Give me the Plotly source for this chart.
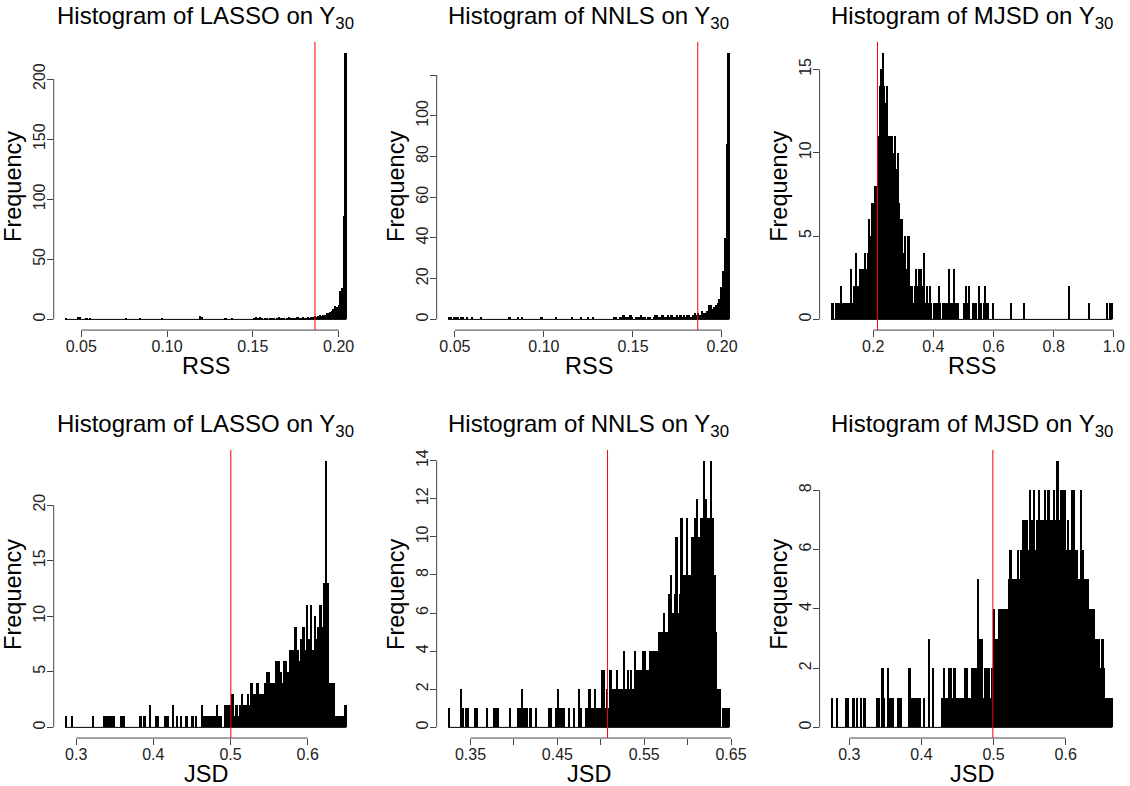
import plotly.graph_objects as go

W, H = 1130, 786
FONT = "Liberation Sans, Arial, Helvetica, sans-serif"

# ---------------- data ----------------
methods = ["LASSO", "NNLS", "MJSD", "LASSO", "NNLS", "MJSD"]
metrics = ["RSS", "RSS", "RSS", "JSD", "JSD", "JSD"]

# histogram bin grids (start of first bin, bin width)
bin_start = [0.0405, 0.0461, 0.0595, 0.2855, 0.324, 0.2745]
bin_width = [0.001, 0.001, 0.005, 0.00248, 0.002, 0.0025]

# red reference lines
ref_value = [0.1862, 0.1864, 0.2146, 0.5004, 0.5078, 0.4990]

counts_lasso_rss = [
    1, 0, 0, 0, 0, 0, 0, 2, 2, 0,
    0, 0, 1, 0, 1, 0, 0, 0, 0, 0,
    0, 0, 0, 0, 0, 0, 0, 0, 0, 0,
    0, 0, 0, 0, 0, 1, 0, 0, 0, 0,
    0, 0, 0, 1, 0, 0, 0, 0, 0, 0,
    0, 0, 0, 0, 0, 0, 1, 0, 0, 0,
    0, 0, 0, 0, 0, 0, 0, 0, 0, 0,
    0, 0, 0, 0, 0, 0, 0, 0, 3, 2,
    0, 0, 0, 0, 0, 0, 0, 0, 0, 0,
    0, 0, 0, 1, 0, 0, 0, 1, 0, 0,
    0, 0, 0, 0, 0, 0, 0, 0, 0, 0,
    1, 2, 1, 2, 1, 0, 1, 1, 0, 1,
    1, 1, 0, 1, 2, 1, 1, 1, 0, 1,
    2, 1, 1, 1, 1, 2, 1, 1, 2, 1,
    1, 2, 1, 2, 2, 3, 2, 3, 4, 3,
    4, 4, 5, 5, 6, 7, 9, 11, 10, 12,
    24, 26, 86, 222,
]

counts_nnls_rss = [
    1, 1, 0, 1, 1, 1, 0, 1, 1, 0,
    1, 0, 0, 1, 0, 0, 0, 0, 1, 0,
    0, 0, 0, 0, 0, 0, 0, 0, 0, 0,
    0, 0, 0, 0, 1, 0, 0, 0, 0, 1,
    0, 1, 0, 0, 0, 0, 0, 0, 0, 0,
    0, 0, 1, 0, 0, 0, 0, 0, 0, 0,
    1, 0, 0, 0, 0, 0, 0, 0, 0, 1,
    0, 0, 0, 0, 1, 0, 0, 0, 1, 0,
    0, 1, 0, 0, 0, 0, 0, 0, 0, 0,
    0, 0, 0, 1, 1, 0, 1, 1, 2, 1,
    1, 1, 2, 1, 0, 1, 1, 1, 2, 1,
    1, 0, 1, 1, 0, 1, 2, 2, 1, 1,
    2, 1, 1, 2, 1, 2, 1, 1, 2, 1,
    2, 1, 2, 1, 2, 2, 1, 2, 3, 2,
    3, 2, 4, 3, 3, 4, 7, 7, 5, 6,
    7, 8, 10, 16, 24, 40, 86, 131,
]

counts_mjsd_rss = [
    1, 1, 0, 1, 1, 1, 2, 1, 1, 1,
    1, 1, 1, 3, 1, 2, 4, 2, 2, 3,
    3, 3, 4, 3, 4, 6, 5, 7, 7, 8,
    8, 11, 14, 15, 16, 14, 13, 14, 11, 11,
    11, 10, 11, 9, 10, 7, 6, 6, 4, 5,
    3, 5, 2, 2, 1, 2, 3, 2, 3, 3,
    2, 4, 1, 2, 1, 2, 1, 0, 1, 1,
    1, 2, 1, 0, 1, 1, 1, 1, 3, 1,
    1, 3, 1, 1, 1, 0, 0, 0, 1, 2,
    1, 2, 0, 0, 1, 1, 1, 0, 2, 1,
    0, 1, 2, 1, 1, 0, 0, 1, 0, 0,
    0, 0, 0, 0, 0, 0, 0, 0, 0, 1,
    0, 0, 0, 0, 0, 0, 0, 0, 1, 0,
    0, 0, 0, 0, 0, 0, 0, 0, 0, 0,
    0, 0, 0, 0, 0, 0, 0, 0, 0, 0,
    0, 0, 0, 0, 0, 0, 0, 0, 2, 0,
    0, 0, 0, 0, 0, 0, 0, 0, 0, 0,
    0, 1, 0, 0, 0, 0, 0, 0, 0, 0,
    0, 0, 0, 1, 0, 1, 1,
]

counts_lasso_jsd = [
    1, 0, 0, 1, 0, 0, 0, 0, 0, 0,
    0, 0, 0, 0, 1, 0, 0, 0, 0, 0,
    1, 1, 1, 1, 1, 1, 0, 0, 0, 1,
    1, 0, 0, 0, 0, 0, 0, 0, 0, 1,
    0, 1, 0, 0, 2, 0, 0, 1, 1, 0,
    0, 0, 1, 1, 0, 0, 2, 0, 1, 0,
    1, 0, 0, 1, 0, 0, 1, 0, 1, 0,
    0, 2, 1, 1, 1, 1, 1, 1, 1, 2,
    1, 1, 0, 2, 2, 2, 2, 3, 1, 2,
    1, 2, 3, 2, 2, 3, 2, 4, 3, 3,
    4, 3, 3, 3, 4, 5, 5, 4, 4, 4,
    6, 6, 5, 4, 6, 6, 5, 7, 7, 7,
    9, 7, 6, 8, 9, 7, 11, 8, 11, 7,
    10, 8, 9, 11, 9, 13, 24, 13, 4, 4,
    4, 1, 1, 1, 1, 1, 2,
]

counts_nnls_jsd = [
    1, 0, 0, 0, 0, 0, 0, 2, 1, 0,
    1, 1, 0, 0, 0, 1, 1, 0, 0, 0,
    0, 0, 1, 0, 0, 0, 1, 1, 1, 0,
    0, 0, 0, 0, 0, 1, 0, 0, 0, 0,
    1, 1, 2, 1, 1, 1, 0, 1, 0, 0,
    1, 0, 0, 0, 0, 0, 0, 0, 1, 1,
    0, 0, 1, 2, 1, 1, 1, 0, 0, 1,
    0, 0, 1, 0, 0, 2, 1, 0, 0, 1,
    1, 2, 1, 1, 2, 1, 1, 1, 3, 3,
    1, 2, 1, 3, 2, 2, 2, 3, 2, 2,
    2, 4, 2, 3, 2, 3, 2, 4, 3, 3,
    3, 3, 4, 4, 3, 3, 4, 4, 4, 4,
    4, 5, 5, 5, 6, 5, 5, 7, 8, 6,
    7, 10, 6, 7, 11, 8, 8, 11, 8, 8,
    10, 10, 11, 12, 10, 11, 11, 14, 12, 11,
    11, 14, 11, 8, 5, 2, 2, 0, 1, 1,
    1, 1,
]

counts_mjsd_jsd = [
    1, 0, 0, 1, 0, 0, 0, 0, 1, 1,
    0, 0, 1, 0, 1, 0, 1, 0, 1, 0,
    0, 0, 0, 0, 0, 1, 1, 0, 2, 1,
    0, 2, 1, 1, 1, 0, 0, 1, 1, 0,
    0, 0, 0, 2, 1, 1, 1, 1, 1, 1,
    0, 1, 0, 0, 3, 0, 2, 0, 0, 0,
    0, 1, 2, 1, 1, 2, 2, 1, 2, 1,
    1, 1, 1, 1, 2, 2, 1, 1, 2, 2,
    2, 5, 3, 3, 1, 2, 2, 2, 1, 2,
    4, 3, 3, 4, 4, 4, 4, 4, 5, 6,
    5, 5, 5, 6, 5, 6, 7, 7, 7, 6,
    8, 7, 8, 6, 7, 8, 7, 7, 8, 7,
    8, 7, 7, 8, 7, 9, 7, 8, 8, 8,
    6, 7, 6, 8, 8, 6, 6, 5, 8, 6,
    5, 5, 5, 4, 4, 4, 3, 3, 3, 2,
    3, 2, 1, 1, 1, 1,
]

counts = [counts_lasso_rss, counts_nnls_rss, counts_mjsd_rss,
          counts_lasso_jsd, counts_nnls_jsd, counts_mjsd_jsd]

x_tickvals = [
    [0.05, 0.10, 0.15, 0.20],
    [0.05, 0.10, 0.15, 0.20],
    [0.2, 0.4, 0.6, 0.8, 1.0],
    [0.3, 0.4, 0.5, 0.6],
    [0.35, 0.40, 0.45, 0.50, 0.55, 0.60, 0.65],
    [0.3, 0.4, 0.5, 0.6],
]
x_ticktext = [
    ["0.05", "0.10", "0.15", "0.20"],
    ["0.05", "0.10", "0.15", "0.20"],
    ["0.2", "0.4", "0.6", "0.8", "1.0"],
    ["0.3", "0.4", "0.5", "0.6"],
    ["0.35", "", "0.45", "", "0.55", "", "0.65"],
    ["0.3", "0.4", "0.5", "0.6"],
]
y_tickvals = [
    [0, 50, 100, 150, 200],
    [0, 20, 40, 60, 80, 100, 120],
    [0, 5, 10, 15],
    [0, 5, 10, 15, 20],
    [0, 2, 4, 6, 8, 10, 12, 14],
    [0, 2, 4, 6, 8],
]
y_ticktext = [
    ["0", "50", "100", "150", "200"],
    ["0", "20", "40", "60", "80", "100", ""],
    ["0", "5", "10", "15"],
    ["0", "5", "10", "15", "20"],
    ["0", "2", "4", "6", "8", "10", "12", "14"],
    ["0", "2", "4", "6", "8"],
]

# ---------------- layout (pixels) ----------------
col_left = [54.0, 439.0, 824.0]
row_top = [41.0, 449.5]
plot_w = 305.5
plot_h = 288.5
AXIS_COLOR = "#444444"

fig = go.Figure()
layout = dict(
    width=W, height=H,
    margin=dict(l=0, r=0, t=0, b=0),
    paper_bgcolor="white", plot_bgcolor="white",
    showlegend=False,
    font=dict(family=FONT, color="black"),
)
shapes = []
annotations = []

for k in range(6):
    r, c = divmod(k, 3)
    s = "" if k == 0 else str(k + 1)
    left = col_left[c]
    top = row_top[r]
    cnt = counts[k]
    n = len(cnt)
    w = bin_width[k]
    lo = bin_start[k]
    hi = lo + n * w
    centers = [lo + (i + 0.5) * w for i in range(n)]
    span = hi - lo
    ymax = max(cnt)

    fig.add_trace(go.Bar(
        x=centers, y=cnt, width=[w] * n,
        marker=dict(color="black", line=dict(width=0)),
        xaxis="x" + s, yaxis="y" + s, hoverinfo="x+y",
    ))
    # zero-height bins appear as a baseline in R
    fig.add_trace(go.Scatter(
        x=[lo, hi], y=[0, 0], mode="lines",
        line=dict(color="black", width=1),
        xaxis="x" + s, yaxis="y" + s, hoverinfo="skip",
    ))

    layout["xaxis" + s] = dict(
        domain=[left / W, (left + plot_w) / W],
        anchor="y" + s,
        range=[lo - 0.04 * span, hi + 0.04 * span],
        showgrid=False, zeroline=False, showline=False,
        ticks="outside", ticklen=6, tickwidth=1, tickcolor=AXIS_COLOR,
        tickvals=x_tickvals[k], ticktext=x_ticktext[k],
        ticklabelstandoff=-4,
        tickfont=dict(size=16, color="#222222", family=FONT),
        fixedrange=True,
    )
    layout["yaxis" + s] = dict(
        domain=[1 - (top + plot_h) / H, 1 - top / H],
        anchor="x" + s,
        range=[-0.04 * ymax, 1.04 * ymax],
        showgrid=False, zeroline=False, showline=False,
        ticks="outside", ticklen=6, tickwidth=1, tickcolor=AXIS_COLOR,
        tickvals=y_tickvals[k], ticktext=y_ticktext[k],
        tickangle=-90, ticklabelstandoff=-5,
        tickfont=dict(size=16, color="#222222", family=FONT),
        fixedrange=True,
    )

    xt = x_tickvals[k]
    yt = y_tickvals[k]
    shapes.append(dict(type="line", xref="x" + s, yref="y" + s + " domain",
                       x0=xt[0], x1=xt[-1], y0=0, y1=0,
                       line=dict(color=AXIS_COLOR, width=1)))
    shapes.append(dict(type="line", xref="x" + s + " domain", yref="y" + s,
                       x0=0, x1=0, y0=yt[0], y1=yt[-1],
                       line=dict(color=AXIS_COLOR, width=1)))
    shapes.append(dict(type="line", xref="x" + s, yref="y" + s + " domain",
                       x0=ref_value[k], x1=ref_value[k], y0=0, y1=1,
                       line=dict(color="red", width=1), layer="above"))

    annotations.append(dict(
        text=f"Histogram of {methods[k]} on Y<sub>30</sub>",
        x=(left + plot_w / 2) / W, y=1 - (top - 24) / H,
        xref="paper", yref="paper", showarrow=False,
        xanchor="center", yanchor="middle",
        font=dict(size=24, family=FONT, color="black"),
    ))
    annotations.append(dict(
        text=metrics[k],
        x=(left + plot_w / 2) / W, y=1 - (top + plot_h + 35.5) / H,
        xref="paper", yref="paper", showarrow=False,
        xanchor="center", yanchor="middle",
        font=dict(size=23.5, family=FONT, color="black"),
    ))
    annotations.append(dict(
        text="Frequency", textangle=-90,
        x=(left - 41) / W, y=1 - (top + plot_h / 2) / H,
        xref="paper", yref="paper", showarrow=False,
        xanchor="center", yanchor="middle",
        font=dict(size=23.5, family=FONT, color="black"),
    ))

layout["shapes"] = shapes
layout["annotations"] = annotations
layout["bargap"] = 0
layout["barmode"] = "overlay"
fig.update_layout(**layout)

fig.write_html(
    "out.html",
    config={"displayModeBar": False},
    post_script="document.body.style.margin='0';document.body.style.overflow='hidden';",
)
